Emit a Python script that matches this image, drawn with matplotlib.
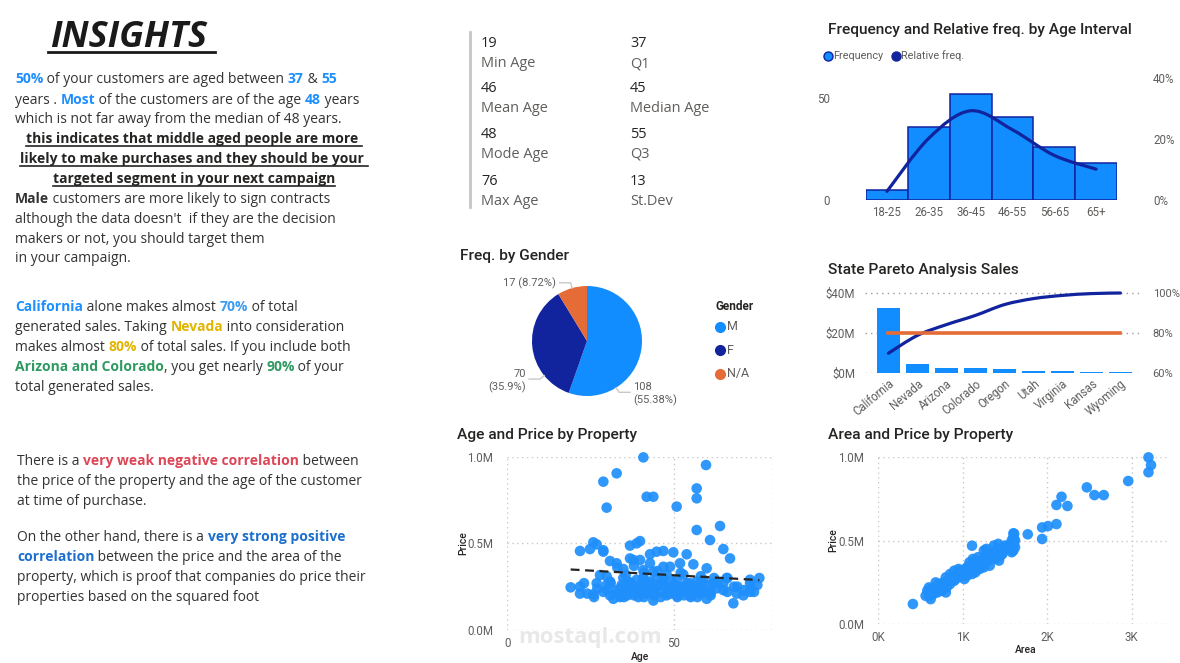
import numpy as np
import matplotlib
matplotlib.use("Agg")
import matplotlib.pyplot as plt
from matplotlib.path import Path
from matplotlib.patches import PathPatch
from matplotlib.lines import Line2D
from matplotlib.ticker import FuncFormatter

W, H = 1180, 663
BODY = "Open Sans"
TITLE = "Roboto"
DARK = "#252423"
GRAY = "#605E5C"
BLUE = "#118DFF"
NAVY = "#12239E"
ORANGE = "#E66C37"
GRID = "#c8c8c8"

plt.rcParams["font.family"] = [TITLE, "DejaVu Sans"]

# ---- data ----
stat_values = ["19", "46", "48", "76", "37", "45", "55", "13"]
stat_labels = ["Min Age", "Mean Age", "Mode Age", "Max Age", "Q1", "Median Age", "Q3", "St.Dev"]

age_bins = ["18-25", "26-35", "36-45", "46-55", "56-65", "65+"]
age_freq = [5, 36, 52, 41, 26, 18]
age_rel = [2.8, 20.2, 29.2, 23.0, 14.6, 10.1]

genders = ["M", "F", "N/A"]
gender_counts = [108, 70, 17]
gender_pct = ["55.38%", "35.9%", "8.72%"]
gender_colors = [BLUE, NAVY, ORANGE]

states = ["California", "Nevada", "Arizona", "Colorado", "Oregon", "Utah",
          "Virginia", "Kansas", "Wyoming"]
state_sales = [32.7, 4.7, 2.3, 2.3, 2.0, 1.2, 0.8, 0.4, 0.4]      # $M
state_cum = [69.9, 78.8, 84.2, 88.8, 94.2, 97.2, 98.8, 99.7, 100.0]  # %
pareto_mark = 80

ages = [40.8, 59.6, 28.8, 32.8, 41.8, 43.8, 56.8, 56.8, 29.8, 50.8, 56.8, 63.8,
        60.8, 64.8, 66.8, 59.8,
        25.8, 26.8, 24.8, 21.8, 28.8, 28.8, 36.8, 38.8, 39.8, 42.8, 44.8, 46.8,
        49.8, 53.8, 51.8, 55.8, 30.8, 32.8, 36.8, 37.8, 39.8, 42.8, 46.8, 48.8,
        34.8, 27.8, 40.8, 43.8, 33, 38, 45, 52, 58, 62, 66, 72.8, 75.6, 35.5, 41,
        19, 21.8, 21.8, 25.8, 26, 26.8, 28.8, 29.8, 30.8, 31.8, 32.8, 33.8, 34.3,
        35.3, 36.3, 37.3, 38.3, 39.3, 40.3, 41.3, 41.8, 42.8, 43.8, 44.8, 45.8,
        46.8, 47.8, 48.3, 49.3, 50.8, 51.8, 52.8, 53.8, 54.8, 55.8, 56.8, 57.8,
        58.8, 59.8, 60.8, 62.8, 64.8, 65.8, 67.8, 68.8, 70.8, 72.8, 72.8,
        30.8, 34.8, 38.8, 42.8, 46.8, 50.8, 52.8, 54.8, 58.8, 61.8, 64.8, 29.8,
        44.8, 47.8, 40.8, 33.5, 36, 49, 55, 61, 68, 74,
        23, 24, 27, 30, 31, 33, 34, 35, 36, 37, 38, 39, 40, 41, 42, 43, 44, 45,
        46, 47, 48, 49, 50, 51, 52, 53, 54, 55, 56, 57, 58, 59, 60, 61, 63, 66,
        69, 71, 73, 75]
age_prices = [0.996, 0.952, 0.856, 0.904, 0.769, 0.769, 0.817, 0.760, 0.706, 0.712,
              0.577, 0.600, 0.519, 0.467, 0.413, 0.356,
              0.506, 0.494, 0.467, 0.456, 0.460, 0.452, 0.487, 0.500, 0.513, 0.437,
              0.452, 0.456, 0.448, 0.437, 0.385, 0.379, 0.398, 0.385, 0.413, 0.404,
              0.404, 0.385, 0.365, 0.365, 0.352, 0.317, 0.346, 0.337, 0.36, 0.37,
              0.34, 0.33, 0.31, 0.30, 0.30, 0.29, 0.30, 0.32, 0.33,
              0.246, 0.25, 0.21, 0.206, 0.19, 0.27, 0.22, 0.26, 0.20, 0.18, 0.23,
              0.19, 0.26, 0.23, 0.28, 0.22, 0.25, 0.19, 0.24, 0.28, 0.21, 0.24,
              0.17, 0.26, 0.22, 0.28, 0.20, 0.24, 0.28, 0.20, 0.25, 0.22, 0.27,
              0.20, 0.23, 0.28, 0.21, 0.24, 0.18, 0.21, 0.24, 0.23, 0.30, 0.154,
              0.21, 0.20, 0.22, 0.27,
              0.28, 0.30, 0.29, 0.28, 0.30, 0.29, 0.32, 0.27, 0.29, 0.27, 0.27,
              0.31, 0.30, 0.32, 0.30, 0.21, 0.20, 0.21, 0.19, 0.22, 0.25, 0.22,
              0.27, 0.21, 0.24, 0.23, 0.27, 0.21, 0.24, 0.19, 0.25, 0.27, 0.20, 0.23,
              0.26, 0.19, 0.27, 0.22, 0.20, 0.25, 0.19, 0.26, 0.21, 0.23, 0.26, 0.19,
              0.24, 0.20, 0.26, 0.21, 0.25, 0.19, 0.27, 0.22, 0.26, 0.20, 0.27, 0.22,
              0.25, 0.23, 0.24, 0.26]

areas = [410, 3200, 3230, 3200, 2960, 2470, 2560, 2670, 2170, 2110, 2240, 2110,
         2010, 1940, 1940, 1770, 1600, 1110,
         580, 600, 620, 630, 650, 670, 700, 720, 730, 750, 770, 780, 800, 800,
         820, 850, 880, 900, 900, 920, 950, 1000, 1020, 1050, 1070, 1080, 1100,
         1120, 1130, 1150, 1170, 1180, 1200, 1220, 1250, 1270, 1280, 1300, 1320,
         1350, 1370, 1380, 1400, 1420, 1430, 1450, 1480, 1500, 1550, 1580, 1580,
         1600, 1600, 1610, 1620, 950, 680, 600, 1150, 1250, 850, 1050, 700, 760,
         980, 1180, 1340, 1460, 1560, 1620, 660, 1060,
         560, 640, 690, 710, 740, 790, 810, 830, 870, 890, 910, 940, 960, 990,
         1010, 1030, 1060, 1090, 1110, 1140, 1160, 1190, 1210, 1230, 1260, 1290,
         1310, 1330, 1360, 1390, 1410, 1440, 1470, 1520, 1570, 1590, 1610, 1600]
area_prices = [0.121, 0.996, 0.950, 0.907, 0.855, 0.817, 0.771, 0.771, 0.761, 0.712,
               0.706, 0.598, 0.586, 0.578, 0.509, 0.537, 0.543, 0.469,
               0.20, 0.17, 0.15, 0.21, 0.18, 0.22, 0.19, 0.24, 0.21, 0.20, 0.25,
               0.22, 0.28, 0.19, 0.26, 0.24, 0.28, 0.32, 0.26, 0.30, 0.33, 0.30,
               0.27, 0.34, 0.31, 0.37, 0.33, 0.39, 0.36, 0.31, 0.35, 0.40, 0.33,
               0.37, 0.34, 0.41, 0.45, 0.38, 0.35, 0.42, 0.47, 0.39, 0.43, 0.48,
               0.38, 0.41, 0.44, 0.47, 0.45, 0.43, 0.50, 0.48, 0.52, 0.54, 0.46,
               0.28, 0.25, 0.22, 0.38, 0.44, 0.30, 0.29, 0.22, 0.23, 0.31, 0.36,
               0.39, 0.42, 0.47, 0.50, 0.21, 0.33,
               0.17, 0.19, 0.21, 0.23, 0.22, 0.24, 0.22, 0.25, 0.27, 0.29, 0.27,
               0.30, 0.32, 0.29, 0.31, 0.33, 0.32, 0.35, 0.30, 0.34, 0.37, 0.36,
               0.34, 0.38, 0.37, 0.40, 0.42, 0.39, 0.40, 0.44, 0.41, 0.45, 0.42,
               0.46, 0.48, 0.46, 0.50, 0.44]

# ---- text content ----
TXT = "#333333"
C_BLUE = "#1E8FFF"
C_LBLUE = "#3D9BF0"
C_GOLD = "#E2B400"
C_GREEN = "#2E9960"
C_RED = "#DC4656"
C_BLUE2 = "#1C6FCC"

para1 = [
    (78, [("50%", C_BLUE, True), (" of your customers are aged between ", TXT, False),
          ("37", C_BLUE, True), (" & ", TXT, False), ("55", C_BLUE, True)]),
    (99, [("years . ", TXT, False), ("Most", C_BLUE, True),
          (" of the customers are of the age ", TXT, False), ("48", C_BLUE, True),
          (" years", TXT, False)]),
    (118, [("which is not far away from the median of 48 years.", TXT, False)]),
]
para1_bold = [(138, "this indicates that middle aged people are more "),
              (158, "likely to make purchases and they should be your "),
              (178, "targeted segment in your next campaign")]
para1_end = [
    (198, [("Male", TXT, True), (" customers are more likely to sign contracts", TXT, False)]),
    (218, [("although the data doesn't  if they are the decision", TXT, False)]),
    (238, [("makers or not, you should target them", TXT, False)]),
    (257, [("in your campaign.", TXT, False)]),
]
para2 = [
    (306, [("California", C_BLUE, True), (" alone makes almost ", TXT, False),
           ("70%", C_LBLUE, True), (" of total", TXT, False)]),
    (326, [("generated sales. Taking ", TXT, False), ("Nevada", C_GOLD, True),
           (" into consideration", TXT, False)]),
    (346, [("makes almost ", TXT, False), ("80%", C_GOLD, True),
           (" of total sales. If you include both", TXT, False)]),
    (366, [("Arizona and Colorado", C_GREEN, True), (", you get nearly ", TXT, False),
           ("90%", C_GREEN, True), (" of your", TXT, False)]),
    (386, [("total generated sales.", TXT, False)]),
]
para3 = [
    (460, [("There is a ", TXT, False), ("very weak negative correlation", C_RED, True),
           (" between", TXT, False)]),
    (480, [("the price of the property and the age of the customer", TXT, False)]),
    (500, [("at time of purchase.", TXT, False)]),
    (536, [("On the other hand, there is a ", TXT, False),
           ("very strong positive", C_BLUE2, True)]),
    (556, [("correlation", C_BLUE2, True),
           (" between the price and the area of the", TXT, False)]),
    (576, [("property, which is proof that companies do price their", TXT, False)]),
    (596, [("properties based on the squared foot", TXT, False)]),
]

fig = plt.figure(figsize=(W / 100, H / 100), dpi=100)
fig.patch.set_facecolor("white")
renderer = fig.canvas.get_renderer()


def fy(y):
    return 1 - y / H


def box(x0, y0, x1, y1):
    return fig.add_axes([x0 / W, 1 - y1 / H, (x1 - x0) / W, (y1 - y0) / H])


def advance(s, **kw):
    t = fig.text(0, 0, "x" + s + "x", **kw)
    t2 = fig.text(0, 0, "xx", **kw)
    w = t.get_window_extent(renderer).width - t2.get_window_extent(renderer).width
    t.remove()
    t2.remove()
    return w


def fit_size(s, width, base, **kw):
    return base * width / advance(s, fontsize=base, **kw)


body_size = fit_size("which is not far away from the median of 48 years.", 328, 10.5, family=BODY)
title_size = fit_size("Frequency and Relative freq. by Age Interval", 305, 10.5, family=TITLE,
                      fontweight="medium")


def rich_line(x, y, parts, size=None, center=False, underline=False):
    size = size or body_size
    widths = [advance(s, fontsize=size, family=BODY,
                      fontweight="bold" if b else "normal") for s, c, b in parts]
    total = sum(widths)
    cur = x - total / 2 if center else x
    start = cur
    for (s, c, b), w in zip(parts, widths):
        fig.text(cur / W, fy(y + 5), s, fontsize=size, family=BODY, color=c,
                 fontweight="bold" if b else "normal", va="baseline", ha="left")
        cur += w
    if underline:
        fig.add_artist(Line2D([start / W, cur / W], [fy(y + 7.5), fy(y + 7.5)],
                              color=DARK, lw=1.2, transform=fig.transFigure))


def smooth_path(xs, ys):
    pts = np.column_stack([xs, ys]).astype(float)
    verts = [pts[0]]
    codes = [Path.MOVETO]
    for i in range(len(pts) - 1):
        p0 = pts[i - 1] if i > 0 else pts[i]
        p1, p2 = pts[i], pts[i + 1]
        p3 = pts[i + 2] if i + 2 < len(pts) else pts[i + 1]
        verts += [p1 + (p2 - p0) / 6, p2 - (p3 - p1) / 6, p2]
        codes += [Path.CURVE4] * 3
    return Path(verts, codes)


def clean(ax):
    for s in ax.spines.values():
        s.set_visible(False)
    ax.tick_params(length=0, labelsize=8.3, labelcolor=GRAY)


def title(x, y, s):
    fig.text(x / W, fy(y), s, fontsize=title_size, color=DARK, va="center",
             fontweight="medium")


# ---- insights text ----
ins_size = fit_size("INSIGHTS", 157, 26, family=BODY, fontweight="bold", fontstyle="italic")
fig.text(50 / W, fy(47), "INSIGHTS", fontsize=ins_size, family=BODY, fontweight="bold",
         fontstyle="italic", color="#1a1a1a", va="baseline")
fig.add_artist(Line2D([48 / W, 215 / W], [fy(52), fy(52)], color="#1a1a1a", lw=2,
                      transform=fig.transFigure))

for y, parts in para1:
    rich_line(15, y, parts)
for y, s in para1_bold:
    rich_line(194, y, [(s, DARK, True)], center=True, underline=True)
for y, parts in para1_end:
    rich_line(15, y, parts)
for y, parts in para2:
    rich_line(15, y, parts)
for y, parts in para3:
    rich_line(17, y, parts)

# ---- stats card ----
fig.add_artist(Line2D([470 / W, 470 / W], [fy(32), fy(207)], color="#c8c6c4", lw=2,
                      transform=fig.transFigure))
for i, (v, lab) in enumerate(zip(stat_values, stat_labels)):
    col, row = divmod(i, 4)
    x = 481 if col == 0 else 630
    y = [42, 87, 133, 180][row]
    fig.text(x / W, fy(y + 5), v, fontsize=body_size * 1.04, family=BODY, color=DARK,
             va="baseline")
    fig.text(x / W, fy(y + 25), lab, fontsize=body_size * 1.04, family=BODY, color=GRAY,
             va="baseline")

# ---- histogram ----
title(828, 30, "Frequency and Relative freq. by Age Interval")
ax = box(866, 68, 1117, 200)
ax.bar(range(len(age_bins)), age_freq, width=1.0, color=BLUE, edgecolor=NAVY, linewidth=1.1)
ax.set_xlim(-0.5, 5.5)
ax.set_ylim(0, 65)
ax.set_yticks([0, 50])
ax.set_xticks(range(len(age_bins)))
ax.set_xticklabels(age_bins)
clean(ax)
ax.tick_params(axis="y", pad=26)
ax.tick_params(axis="x", pad=4)
ax2 = ax.twinx()
ax2.set_ylim(0, 65 * 2.034 / 3.06)
ax2.set_yticks([0, 20, 40])
ax2.yaxis.set_major_formatter(FuncFormatter(lambda v, p: f"{v:.0f}%"))
clean(ax2)
ax2.tick_params(axis="y", pad=26)
ax2.add_patch(PathPatch(smooth_path(range(len(age_bins)), age_rel), fill=False,
                        edgecolor=NAVY, lw=2.3, capstyle="round"))
fig.legend(handles=[Line2D([], [], marker="o", ls="", color=BLUE, mec=NAVY, mew=1, ms=6.5),
                    Line2D([], [], marker="o", ls="", color=NAVY, ms=6.5)],
           labels=["Frequency", "Relative freq."], loc="center left",
           bbox_to_anchor=(824 / W, fy(56)), ncol=2, frameon=False, handletextpad=0.05,
           columnspacing=0.8, handlelength=0.8, prop={"size": 7.8},
           labelcolor=GRAY, borderaxespad=0, borderpad=0)

# ---- pie ----
title(460, 256, "Freq. by Gender")
ax = box(532, 286, 642, 396)
ax.pie(gender_counts, colors=gender_colors, startangle=90, counterclock=False,
       radius=1, wedgeprops=dict(linewidth=0))
ax.set_xlim(-1, 1)
ax.set_ylim(-1, 1)
label_angles = [-58, -141, 105.7]
two_line = [True, True, False]
for cnt, pct, ang, two in zip(gender_counts, gender_pct, label_angles, two_line):
    ux, uy = np.cos(np.deg2rad(ang)), np.sin(np.deg2rad(ang))
    side = 1 if ux > 0 else -1
    x2, y2 = 1.1 * ux, 1.1 * uy
    x3 = x2 + side * 0.2
    ax.plot([ux, x2, x3], [uy, y2, y2], color=GRID, lw=1, clip_on=False)
    lab = f"{cnt}\n({pct})" if two else f"{cnt} ({pct})"
    ax.text(x3 + side * 0.06, y2 - (0.03 if two else 0), lab, ha="left" if side > 0 else "right",
            va="center", multialignment="left" if side > 0 else "right",
            fontsize=8, color=GRAY, linespacing=1.25, clip_on=False)
fig.text(715 / W, fy(307), "Gender", fontsize=8.5, fontweight="bold", color=DARK, va="center")
for g, c, y in zip(genders, gender_colors, [327, 350, 374]):
    fig.add_artist(Line2D([720 / W], [fy(y)], marker="o", ms=7, color=c, ls="",
                          transform=fig.transFigure))
    fig.text(727 / W, fy(y), g, fontsize=9, color=GRAY, va="center")

# ---- pareto ----
title(828, 270, "State Pareto Analysis Sales")
ax = box(865, 289, 1143, 373)
xs = np.arange(len(states))
ax.bar(xs, state_sales, width=0.78, color=BLUE)
ax.set_xlim(-0.81, 8.78)
ax.set_ylim(0, 42)
ax.set_yticks([0, 20, 40])
ax.yaxis.set_major_formatter(FuncFormatter(lambda v, p: f"${v:.0f}M"))
ax.grid(axis="y", color="#9a9a9a", ls=(0, (1, 3)), lw=1)
ax.set_axisbelow(True)
ax.set_xticks(xs)
ax.set_xticklabels(states, rotation=40, ha="right", rotation_mode="anchor")
clean(ax)
ax.tick_params(axis="y", pad=7)
ax.tick_params(axis="x", pad=3, labelsize=8.3)
ax2 = ax.twinx()
ax2.set_ylim(60, 102)
ax2.set_yticks([60, 80, 100])
ax2.yaxis.set_major_formatter(FuncFormatter(lambda v, p: f"{v:.0f}%"))
clean(ax2)
ax2.tick_params(axis="y", pad=7, labelsize=8)
ax2.plot([xs[0], xs[-1]], [pareto_mark, pareto_mark], color=ORANGE, lw=2.6)
ax2.add_patch(PathPatch(smooth_path(xs, state_cum), fill=False, edgecolor=NAVY, lw=2.3,
                        capstyle="round"))

# ---- scatter helpers ----
mfmt = FuncFormatter(lambda v, p: f"{v:.1f}M")


def scatter_panel(rect, x, y, xlim, xticks, xfmt, xlabel, ttl, tx, ty, lx, ly, px):
    title(tx, ty, ttl)
    a = box(*rect)
    a.patch.set_alpha(0)
    a.scatter(x, y, s=58, color="#1f8ffb", alpha=0.92, edgecolors="none", clip_on=False,
              zorder=3)
    a.set_xlim(*xlim)
    a.set_ylim(0, 1.0)
    a.set_xticks(xticks)
    a.set_yticks([0, 0.5, 1.0])
    a.xaxis.set_major_formatter(xfmt)
    a.yaxis.set_major_formatter(mfmt)
    a.grid(True, color=GRID, ls=(0, (1, 2.5)), lw=1)
    a.set_axisbelow(True)
    clean(a)
    a.tick_params(axis="y", pad=10)
    a.tick_params(axis="x", pad=5)
    fig.text(lx / W, fy(ly), xlabel, fontsize=7.5, color=DARK, ha="center", va="center",
             fontweight="medium")
    fig.text(px / W, fy((rect[1] + rect[3]) / 2), "Price", fontsize=7.5, color=DARK,
             ha="center", va="center", rotation=90, fontweight="medium")
    return a


fig.text(590 / W, fy(637), "mostaql.com", fontsize=16, fontweight="bold", color="#e8e8e8",
         ha="center", va="center", zorder=-5, family=BODY)

ax = scatter_panel((507.3, 456.7, 771.7, 630), ages, age_prices, (0, 79.3), [0, 50],
                   FuncFormatter(lambda v, p: f"{v:.0f}"), "Age", "Age and Price by Property",
                   457, 435, 640, 657, 463)
ax.axvline(79.3, color=GRID, ls=(0, (1, 2.5)), lw=1, zorder=0)
m, b = np.polyfit(ages, age_prices, 1)
tx = np.array([min(ages), max(ages)])
ax.plot(tx, m * tx + b, color=DARK, ls=(0, (4, 2.5)), lw=1.6, zorder=4)

scatter_panel((878.3, 456.7, 1170, 624.3), np.array(areas) / 1000, area_prices, (0, 3.455),
              [0, 1, 2, 3], FuncFormatter(lambda v, p: f"{v:.0f}K"), "Area",
              "Area and Price by Property", 828, 435, 1026, 650, 833)

fig.savefig("out.png", dpi=100, facecolor="white")
